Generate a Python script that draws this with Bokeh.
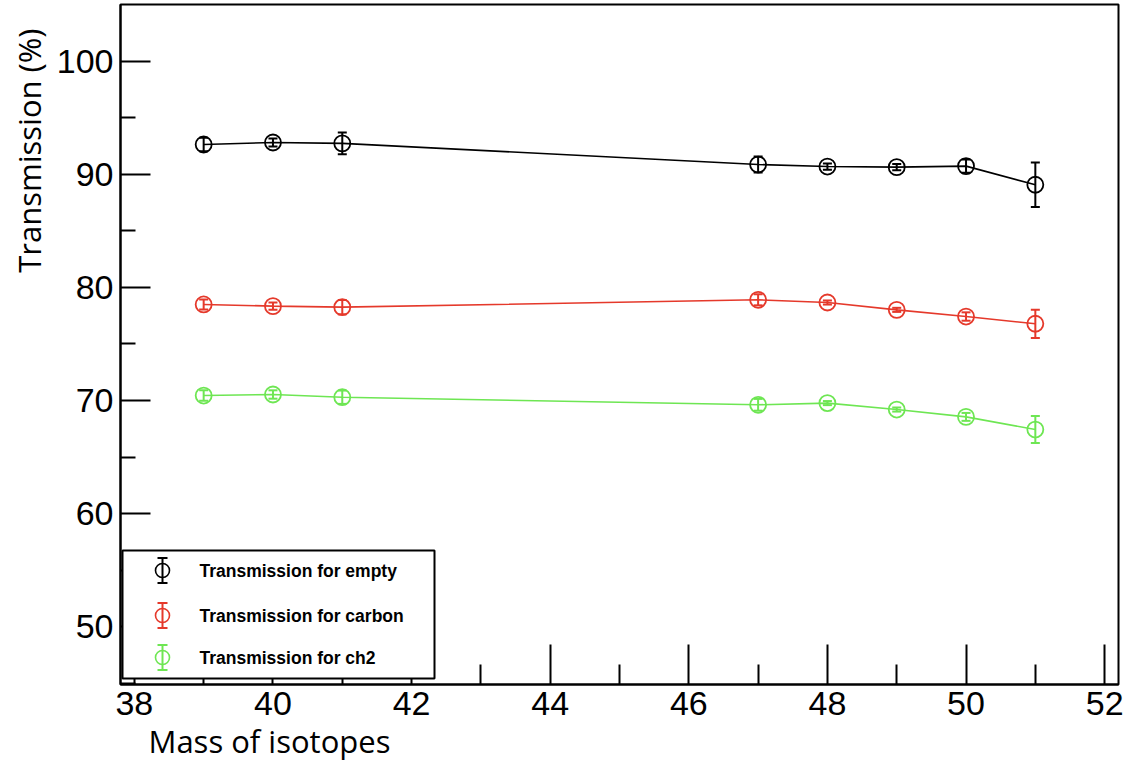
import math
from bokeh.plotting import figure
from bokeh.models import (ColumnDataSource, Whisker, TeeHead, Range1d, FixedTicker, Title)
from bokeh.embed import file_html
from bokeh.resources import INLINE
from bokeh.core.properties import value

# ---------------- data ----------------
mass = [39, 40, 41, 47, 48, 49, 50, 51]

empty = [92.65, 92.83, 92.75, 90.88, 90.70, 90.65, 90.74, 89.09]
empty_err = [0.60, 0.35, 0.96, 0.70, 0.28, 0.28, 0.59, 1.96]

carbon = [78.50, 78.35, 78.26, 78.91, 78.67, 78.02, 77.43, 76.79]
carbon_err = [0.44, 0.32, 0.63, 0.49, 0.18, 0.18, 0.37, 1.25]

ch2 = [70.44, 70.53, 70.29, 69.62, 69.77, 69.20, 68.55, 67.43]
ch2_err = [0.47, 0.37, 0.59, 0.52, 0.18, 0.18, 0.35, 1.19]

series_names = ["Transmission for empty", "Transmission for carbon", "Transmission for ch2"]
series_colors = ["#000000", "#e5392b", "#6ee653"]

x_major = [38, 40, 42, 44, 46, 48, 50, 52]
x_minor = [39, 41, 43, 45, 47, 49, 51]
y_major = [50, 60, 70, 80, 90, 100]
y_minor = [45, 55, 65, 75, 85, 95]

x_title = "Mass of isotopes"
y_title = "Transmission (%)"

# ---------------- layout ----------------
FW, FH = 998, 680

p = figure(frame_width=FW, frame_height=FH,
           min_border_left=120, min_border_right=12,
           min_border_top=4, min_border_bottom=84,
           x_range=Range1d(37.8, 52.2), y_range=Range1d(44.87, 105.04),
           output_backend="svg", toolbar_location=None)
p.extra_x_ranges = {"px": Range1d(0, FW)}
p.extra_y_ranges = {"px": Range1d(0, FH)}

p.background_fill_color = "white"
p.border_fill_color = "white"
p.outline_line_color = "black"
p.outline_line_width = 2
p.xgrid.visible = False
p.ygrid.visible = False

for ax, major, minor, tin, tmin in ((p.xaxis[0], x_major, x_minor, 40, 20),
                                    (p.yaxis[0], y_major, y_minor, 30, 15)):
    ax.ticker = FixedTicker(ticks=major, minor_ticks=minor)
    ax.major_tick_in = tin
    ax.major_tick_out = 0
    ax.minor_tick_in = tmin
    ax.minor_tick_out = 0
    ax.major_tick_line_width = 2
    ax.minor_tick_line_width = 2
    ax.major_tick_line_color = "black"
    ax.minor_tick_line_color = "black"
    ax.axis_line_width = 2
    ax.axis_line_color = "black"
    ax.major_label_text_font = "Liberation Sans"
    ax.major_label_text_font_size = "34px"
    ax.major_label_text_color = "black"
    ax.axis_label = None

p.yaxis[0].major_label_standoff = 7
p.xaxis[0].major_label_standoff = 7

# ---------------- series ----------------
for ys, es, col in ((empty, empty_err, series_colors[0]),
                    (carbon, carbon_err, series_colors[1]),
                    (ch2, ch2_err, series_colors[2])):
    src = ColumnDataSource(dict(
        x=mass, y=ys,
        lo=[a - b for a, b in zip(ys, es)],
        hi=[a + b for a, b in zip(ys, es)]))
    p.line("x", "y", source=src, line_color=col, line_width=1.6)
    p.scatter("x", "y", source=src, marker="circle", size=16,
              fill_color=None, line_color=col, line_width=1.8)
    w = Whisker(source=src, base="x", lower="lo", upper="hi",
                line_color=col, line_width=2,
                upper_head=TeeHead(size=9, line_color=col, line_width=2),
                lower_head=TeeHead(size=9, line_color=col, line_width=2))
    p.add_layout(w)

# ---------------- legend (pixel space relative to frame) ----------------
leg_y = [114, 69, 27]
leg_mx = 42
leg_tx = 79
bar_h = 12.5
cap_w = 5
p.quad(left=[2], right=[314], bottom=[6], top=[134],
       fill_color="white", line_color="black", line_width=2,
       x_range_name="px", y_range_name="px", level="overlay")
p.segment(x0=[leg_mx] * 3, x1=[leg_mx] * 3,
          y0=[v - bar_h for v in leg_y], y1=[v + bar_h for v in leg_y],
          line_color=series_colors, line_width=2,
          x_range_name="px", y_range_name="px", level="overlay")
p.segment(x0=[leg_mx - cap_w] * 6, x1=[leg_mx + cap_w] * 6,
          y0=[v - bar_h for v in leg_y] + [v + bar_h for v in leg_y],
          y1=[v - bar_h for v in leg_y] + [v + bar_h for v in leg_y],
          line_color=series_colors * 2, line_width=2,
          x_range_name="px", y_range_name="px", level="overlay")
p.scatter(x=[leg_mx] * 3, y=leg_y, marker="circle", size=14,
          fill_color=None, line_color=series_colors, line_width=1.6,
          x_range_name="px", y_range_name="px", level="overlay")
p.text(x=[leg_tx] * 3, y=leg_y, text=series_names,
       text_font=value("Liberation Sans"), text_font_style="bold",
       text_font_size="17.5px", text_baseline="middle", text_color="black",
       x_range_name="px", y_range_name="px", level="overlay")

# ---------------- axis titles ----------------
p.add_layout(Title(text=y_title, align="right", offset=24, standoff=7,
                   text_font="Open Sans", text_font_size="31px",
                   text_font_style="normal", text_color="black"), "left")
p.add_layout(Title(text=x_title, align="left", offset=28, standoff=0,
                   text_font="Open Sans", text_font_size="31px",
                   text_font_style="normal", text_color="black"), "below")

open("out.html", "w").write(file_html(p, INLINE))
